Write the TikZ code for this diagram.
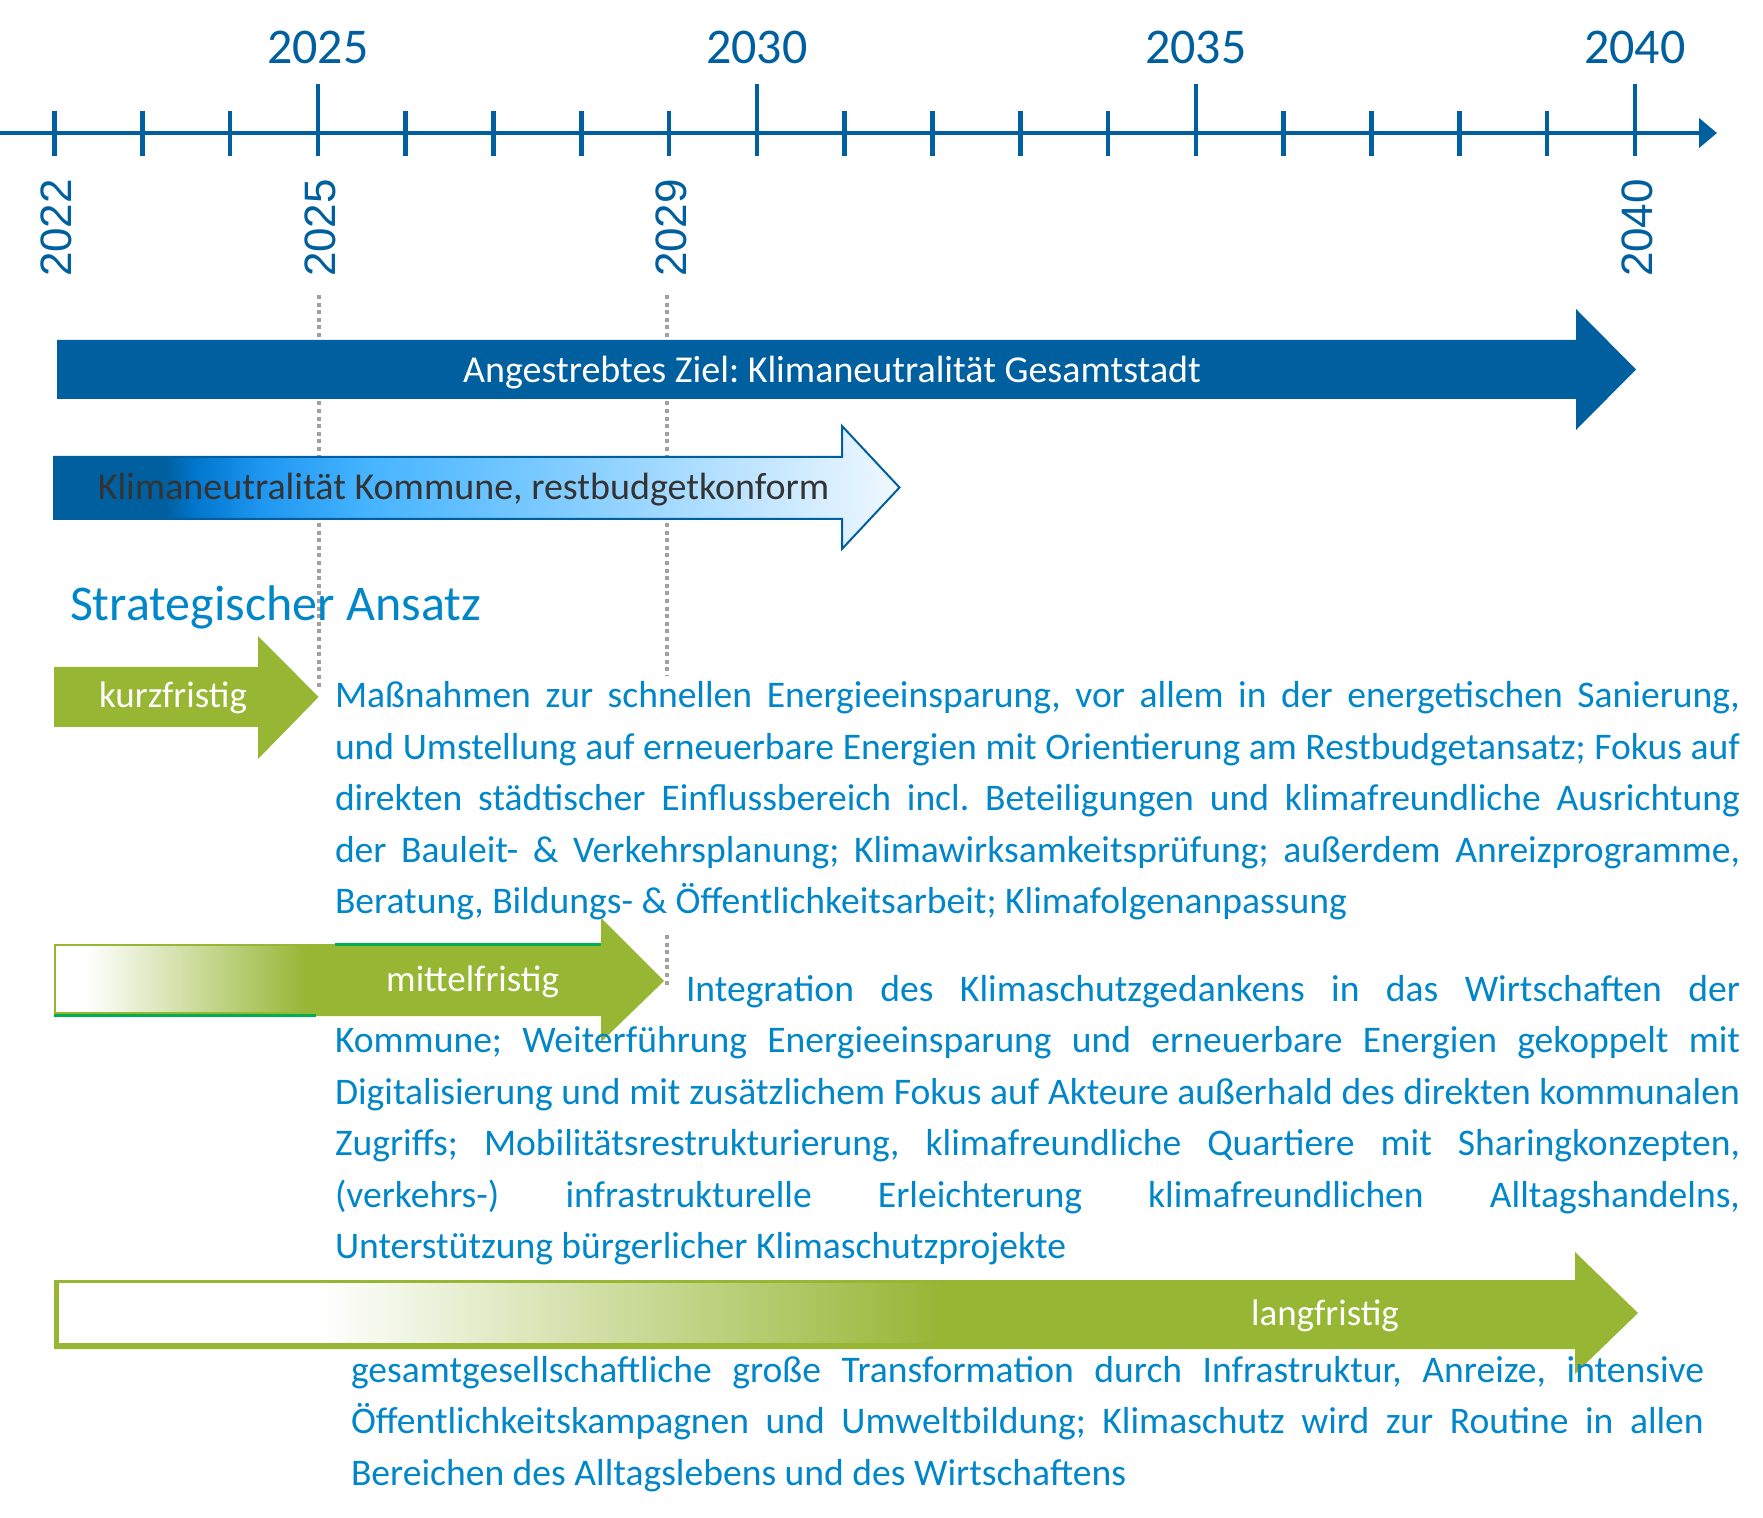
\documentclass[tikz,border=0pt]{standalone}
\usepackage{fontspec}
\setmainfont{Carlito}
\newfontfamily\sidefont{Liberation Sans}
\usetikzlibrary{arrows.meta}

\definecolor{zielblue}{RGB}{0,95,158}
\definecolor{textblue}{RGB}{0,134,201}
\definecolor{klimagreen}{RGB}{150,182,52}
\definecolor{linegreen}{RGB}{0,176,80}
\definecolor{guidegray}{RGB}{160,160,160}
\definecolor{labelgray}{RGB}{51,51,51}
\definecolor{kmid}{RGB}{0,118,204}
\definecolor{kbright}{RGB}{30,150,240}
\definecolor{klight}{RGB}{70,180,255}
\definecolor{ksky}{RGB}{128,204,255}
\definecolor{kpale}{RGB}{190,228,255}
\definecolor{kwhite}{RGB}{240,248,255}

\pgfdeclarehorizontalshading{kommunefill}{100bp}{color(0bp)=(zielblue); color(31.6bp)=(zielblue);
  color(33.3bp)=(kmid); color(37.2bp)=(kbright); color(43.5bp)=(klight); color(55bp)=(ksky);
  color(66bp)=(kpale); color(75bp)=(kwhite); color(100bp)=(kwhite)}
\pgfdeclarehorizontalshading{mittelfill}{100bp}{color(0bp)=(white); color(31bp)=(white);
  color(73.5bp)=(klimagreen); color(100bp)=(klimagreen)}
\pgfdeclarehorizontalshading{langfill}{100bp}{color(0bp)=(white); color(33.6bp)=(white);
  color(54.2bp)=(klimagreen); color(100bp)=(klimagreen)}

\tolerance=10000
\hyphenpenalty=10000
\frenchspacing

\begin{document}
\begin{tikzpicture}
    [x=0.5pt, y=-0.5pt,
     every node/.style={inner sep=0pt, outer sep=0pt},
     yeartick/.style={zielblue, line width=2.3pt},
     toplabel/.style={zielblue, font=\fontsize{25}{25}\selectfont, anchor=base},
     sidelabel/.style={zielblue, font=\sidefont\fontsize{22}{22}\selectfont, rotate=90},
     guideline/.style={guidegray, line width=2pt, dash pattern=on 2pt off 1.8pt},
     barlabel/.style={font=\fontsize{19}{19}\selectfont, anchor=base},
     greenlabel/.style={white, font=\fontsize{18.5}{18.5}\selectfont, anchor=base},
     paratext/.style={textblue, font=\fontsize{18.8}{25.75}\selectfont, align=justify, anchor=base west}]

    \useasboundingbox (0,0) rectangle (1763,1518);

    % timeline
    \coordinate (axisstart) at (0,133);
    \coordinate (axisend) at (1717,133);
    \draw [zielblue, line width=2.3pt, -{Triangle[length=9pt, width=14.5pt]}] (axisstart) -- (axisend);

    \foreach \i in {0,...,18}
      \draw [yeartick] (54.5+87.8*\i, 111) -- (54.5+87.8*\i, 156);

    \foreach \i/\yr in {3/2025, 8/2030, 13/2035, 18/2040} {
      \draw [yeartick] (54.5+87.8*\i, 84) -- (54.5+87.8*\i, 111);
      \node [toplabel] at (54.5+87.8*\i, 64) (top\yr) {\yr};
    }

    \foreach \i/\yr in {0/2022, 3/2025, 7/2029, 18/2040}
      \node [sidelabel] at (56.5+87.8*\i, 228) (side\yr) {\yr};

    \draw [guideline] (318.5, 295) -- (318.5, 690);
    \draw [guideline] (667, 295) -- (667, 676);
    \draw [guideline] (667, 935) -- (667, 985);

    % goals
    \fill [zielblue] (57,340) -- (1576,340) -- (1576,309) -- (1636,369.5)
      -- (1576,430) -- (1576,399) -- (57,399) -- cycle;
    \node [barlabel, white] at (832,383) (ziel) {Angestrebtes Ziel: Klimaneutralität Gesamtstadt};

    \shadedraw [shading=kommunefill, draw=zielblue, line width=1pt] (54,457) -- (842,457) -- (842,426)
      -- (899.5,487.5) -- (842,549) -- (842,519) -- (54,519) -- cycle;
    \node [barlabel, labelgray] at (463.5,499.5) (kommune) {Klimaneutralität Kommune, restbudgetkonform};

    \node [textblue, font=\fontsize{25}{25}\selectfont, anchor=base west] at (70,621) (ansatz) {Strategischer Ansatz};

    % kurzfristig
    \fill [klimagreen] (54,667) -- (258,667) -- (258,636) -- (318.6,697)
      -- (258,759) -- (258,727) -- (54,727) -- cycle;
    \node [greenlabel] at (173,708) (kurz) {kurzfristig};
    \node [paratext, text width=702.5pt] at (335,708) (kurztext)
      {Maßnahmen zur schnellen Energieeinsparung, vor allem in der energetischen Sanierung,\linebreak
       und Umstellung auf erneuerbare Energien mit Orientierung am Restbudgetansatz; Fokus auf\linebreak
       direkten städtischer Einflussbereich incl. Beteiligungen und klimafreundliche Ausrichtung\linebreak
       der Bauleit- \& Verkehrsplanung; Klimawirksamkeitsprüfung; außerdem Anreizprogramme,\linebreak
       Beratung, Bildungs- \& Öffentlichkeitsarbeit; Klimafolgenanpassung};

    % mittelfristig
    \fill [klimagreen] (54,944) -- (601,944) -- (601,918) -- (664,981)
      -- (601,1042) -- (601,1016) -- (54,1016) -- cycle;
    \shadedraw [shading=mittelfill, draw=klimagreen, line width=1pt] (55,945) rectangle (316,1013);
    \draw [linegreen, line width=1.5pt] (335,944) -- (601,944);
    \draw [linegreen, line width=1.5pt] (54,1015) -- (316,1015);
    \node [greenlabel] at (472.6,991.7) (mittel) {mittelfristig};
    \node [paratext, text width=702.5pt] at (335,1001) (mitteltext)
      {\hspace*{175.5pt}Integration des Klimaschutzgedankens in das Wirtschaften der\linebreak
       Kommune; Weiterführung Energieeinsparung und erneuerbare Energien gekoppelt mit\linebreak
       Digitalisierung und mit zusätzlichem Fokus auf Akteure außerhald des direkten kommunalen\linebreak
       Zugriffs; Mobilitätsrestrukturierung, klimafreundliche Quartiere mit Sharingkonzepten,\linebreak
       (verkehrs-) infrastrukturelle Erleichterung klimafreundlichen Alltagshandelns,\linebreak
       Unterstützung bürgerlicher Klimaschutzprojekte};

    % langfristig
    \fill [klimagreen] (54,1280) -- (1575,1280) -- (1575,1252) -- (1638,1313)
      -- (1575,1374) -- (1575,1349) -- (54,1349) -- cycle;
    \shade [shading=langfill] (59,1283) rectangle (1575,1342);
    \node [greenlabel] at (1325,1325) (lang) {langfristig};
    \node [paratext, text width=676.5pt] at (351,1382) (langtext)
      {gesamtgesellschaftliche große Transformation durch Infrastruktur, Anreize, intensive\linebreak
       Öffentlichkeitskampagnen und Umweltbildung; Klimaschutz wird zur Routine in allen\linebreak
       Bereichen des Alltagslebens und des Wirtschaftens};

  \end{tikzpicture}
\end{document}
